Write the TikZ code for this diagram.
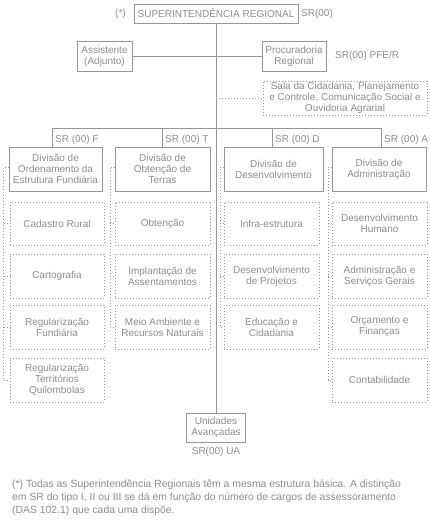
\documentclass[tikz,border=0pt]{standalone}
\usepackage{fontspec}
\setmainfont{Liberation Sans}
\begin{document}
\definecolor{ink}{RGB}{140,140,140}
\definecolor{rule}{RGB}{150,150,150}
\begin{tikzpicture}[x=1pt,y=-1pt,
  every node/.style={font=\fontsize{10}{11}\selectfont, text=ink, inner sep=0pt, align=center},
  solidbox/.style={draw=rule, line width=0.8pt, minimum width=#1},
  dotbox/.style={draw=rule, line width=0.8pt, dash pattern=on 1pt off 2pt, minimum width=#1},
  conn/.style={draw=rule, line width=0.8pt},
  dotconn/.style={draw=rule, line width=0.8pt, dash pattern=on 1pt off 2pt},
  tag/.style={anchor=west},
]
\useasboundingbox (0,0) rectangle (430,527);

% top level
\node[solidbox=164, minimum height=19] (sup) at (216,13.5) {SUPERINTENDÊNCIA REGIONAL};
\node (star) at (120.5,14) {(*)};
\node[tag] (srtop) at (301,14) {SR(00)};

\node[solidbox=55, minimum height=30] (assist) at (104.5,56) {Assistente\\(Adjunto)};
\node[solidbox=64, minimum height=30] (proc) at (294,56) {Procuradoria\\Regional};
\node[tag] (srpfe) at (335,56) {SR(00) PFE/R};

\node[dotbox=164, minimum height=34] (sala) at (345,98)
  {Sala da Cidadania, Planejamento\\e Controle, Comunicação Social e\\Ouvidoria Agrarial};

% divisions
\node[solidbox=93, minimum height=44] (d1) at (55.5,169) {Divisão de\\Ordenamento da\\Estrutura Fundiária};
\node[solidbox=95, minimum height=44] (d2) at (162.5,169) {Divisão de\\Obtenção de\\Terras};
\node[solidbox=99, minimum height=44] (d3) at (273.5,169) {Divisão de\\Desenvolvimento};
\node[solidbox=94, minimum height=44] (d4) at (379,169) {Divisão de\\Administração};

% sub-units
\node[dotbox=94, minimum height=43] (s11) at (57,223.5) {Cadastro Rural};
\node[dotbox=94, minimum height=44] (s12) at (57,276) {Cartografia};
\node[dotbox=94, minimum height=44] (s13) at (57,327) {Regularização\\Fundiária};
\node[dotbox=94, minimum height=44] (s14) at (57,380) {Regularização\\Territórios\\Quilombolas};

\node[dotbox=95, minimum height=43] (s21) at (162.5,223.5) {Obtenção};
\node[dotbox=95, minimum height=44] (s22) at (162.5,276) {Implantação de\\Assentamentos};
\node[dotbox=95, minimum height=44] (s23) at (162.5,327) {Meio Ambiente e\\Recursos Naturais};

\node[dotbox=95, minimum height=43] (s31) at (271.5,223.5) {Infra-estrutura};
\node[dotbox=95, minimum height=44] (s32) at (271.5,276) {Desenvolvimento\\de Projetos};
\node[dotbox=95, minimum height=44] (s33) at (271.5,327) {Educação e\\Cidadania};

\node[dotbox=95, minimum height=43] (s41) at (379.5,223.5) {Desenvolvimento\\Humano};
\node[dotbox=95, minimum height=44] (s42) at (379.5,276) {Administração e\\Serviços Gerais};
\node[dotbox=95, minimum height=44] (s43) at (379.5,327) {Orçamento e\\Finanças};
\node[dotbox=95, minimum height=44] (s44) at (379.5,380) {Contabilidade};

% advanced units
\node[solidbox=59, minimum height=29] (ua) at (216,427.5) {Unidades\\Avançadas};
\node (srua) at (216,452) {SR(00) UA};

% trunk and branches
\draw[conn] (sup.south) -- (ua.north);
\draw[conn] (assist.east) -- (proc.west);
\coordinate (salaj) at (216,98);
\draw[dotconn] (salaj) -- (sala.west);

\coordinate (b1) at (52,128.5);
\coordinate (b2) at (162,128.5);
\coordinate (b3) at (272,128.5);
\coordinate (b4) at (381,128.5);
\draw[conn] (b1 |- d1.north) -- (b1) -- (b4) -- (b4 |- d4.north);
\draw[conn] (b2) -- (b2 |- d2.north);
\draw[conn] (b3) -- (b3 |- d3.north);

\node[tag] (t1) at (55,139.5) {SR (00) F};
\node[tag] (t2) at (165,139.5) {SR (00) T};
\node[tag] (t3) at (275,139.5) {SR (00) D};
\node[tag] (t4) at (384,139.5) {SR (00) A};

% dotted brackets linking each division to its sub-units
\coordinate (k1) at (3.5,167);
\coordinate (k2) at (110,167);
\coordinate (k3) at (220,167);
\coordinate (k4) at (328,167);
\draw[dotconn] (d1.west |- k1) -- (k1) -- (k1 |- s14.west) -- (s14.west);
\foreach \s in {s11,s12,s13} \draw[dotconn] (k1 |- \s.west) -- (\s.west);
\draw[dotconn] (d2.west |- k2) -- (k2) -- (k2 |- s23.west) -- (s23.west);
\foreach \s in {s21,s22} \draw[dotconn] (k2 |- \s.west) -- (\s.west);
\draw[dotconn] (d3.west |- k3) -- (k3) -- (k3 |- s33.west) -- (s33.west);
\foreach \s in {s31,s32} \draw[dotconn] (k3 |- \s.west) -- (\s.west);
\draw[dotconn] (d4.west |- k4) -- (k4) -- (k4 |- s44.west) -- (s44.west);
\foreach \s in {s41,s42,s43} \draw[dotconn] (k4 |- \s.west) -- (\s.west);

% footnote
\node[anchor=north west, align=left, font=\fontsize{10.4}{13}\selectfont] (note) at (12,480)
  {(*) Todas as Superintendência Regionais têm a mesma estrutura básica. A distinção\\
   em SR do tipo I, II ou III se dá em função do número de cargos de assessoramento\\
   (DAS 102.1) que cada uma dispõe.};
\end{tikzpicture}
\end{document}
